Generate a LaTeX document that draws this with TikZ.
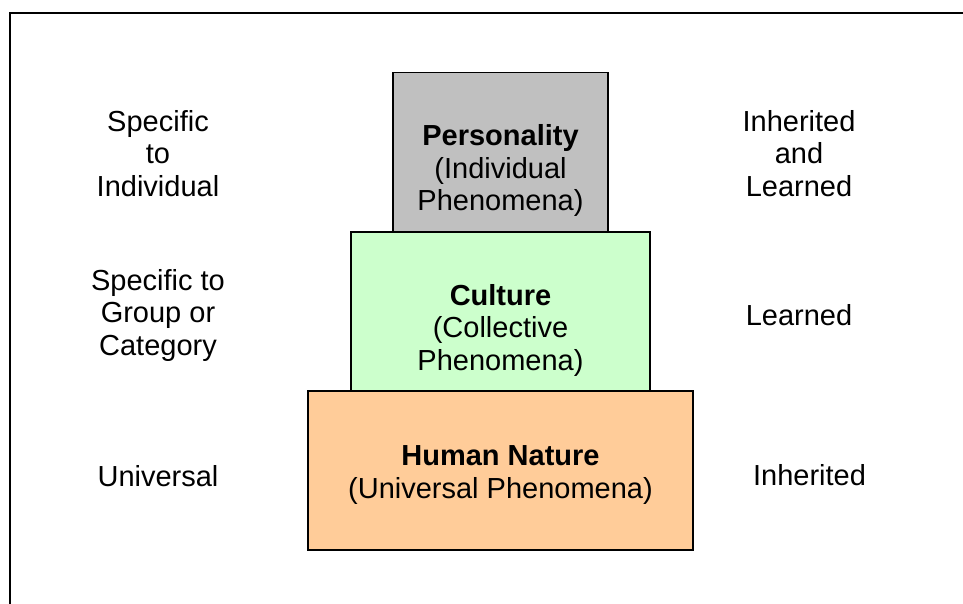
\documentclass[tikz,border=0pt]{standalone}
\usepackage{fontspec}
\setmainfont{Liberation Sans}
\definecolor{persgray}{HTML}{C0C0C0}
\definecolor{cultgreen}{HTML}{CCFFCC}
\definecolor{natorange}{HTML}{FFCC99}
\begin{document}
\begin{tikzpicture}[x=1pt,y=-1pt,
  layer/.style={draw=black,line width=1.3pt},
  txt/.style={inner sep=0pt,align=center,anchor=base,font=\fontsize{29}{32.5}\selectfont}]
\useasboundingbox (0,0) rectangle (963,604);
% frame
\draw[line width=2pt,line cap=rect] (9.5,610) -- (9.5,13.5) -- (970,13.5);
% layers
\filldraw[layer,fill=persgray] (393,72.5) rectangle (608,232);
\filldraw[layer,fill=cultgreen] (351,232) rectangle (650,391);
\filldraw[layer,fill=natorange] (308,391) rectangle (693,550);
% box texts (anchor base = last line)
\node[txt] (pers) at (500.5,211) {\textbf{Personality}\\(Individual\\Phenomena)};
\node[txt] (cult) at (500.5,370) {\textbf{Culture}\\(Collective\\Phenomena)};
\node[txt] (nat) at (500.5,498) {\textbf{Human Nature}\\(Universal Phenomena)};
% left texts
\node[txt] (l1) at (158,196.5) {Specific\\to\\Individual};
\node[txt] (l2) at (158,355) {Specific to\\Group or\\Category};
\node[txt] (l3) at (158,486) {Universal};
% right texts
\node[txt] (r1) at (799,196.5) {Inherited\\and\\Learned};
\node[txt] (r2) at (799,325) {Learned};
\node[txt] (r3) at (809.5,485) {Inherited};
\end{tikzpicture}
\end{document}
